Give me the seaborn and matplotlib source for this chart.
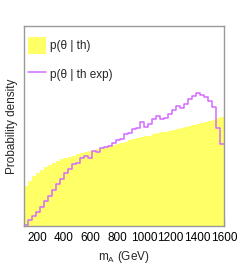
import numpy as np
import pandas as pd
import matplotlib
matplotlib.use("Agg")
import matplotlib.pyplot as plt
import seaborn as sns
from matplotlib.ticker import MultipleLocator

# binning in m_A (GeV)
m_min, m_max, n_bins = 100, 1600, 50

# p(theta | th), arbitrary density units
p_th = [40, 45, 50, 53, 56, 59, 61, 63, 65, 67,
        68, 69, 70, 72, 73, 74, 75, 76, 77, 78,
        79, 80, 81, 82, 83, 84, 86, 87, 88, 89,
        90, 90, 92, 93, 94, 94, 95, 96, 97, 98,
        99, 100, 101, 102, 103, 104, 105, 106, 108, 109]

# p(theta | th exp)
p_th_exp = [1, 6, 10, 14, 19, 25, 30, 36, 42, 47,
            53, 57, 62, 63, 68, 70, 68, 75, 74, 78,
            79, 80, 83, 86, 87, 92, 93, 97, 98, 104,
            99, 102, 107, 110, 107, 108, 112, 116, 120, 118,
            122, 127, 130, 133, 131, 129, 125, 119, 98, 82]

edges = np.linspace(m_min, m_max, n_bins + 1).tolist()
centers = [0.5 * (a + b) for a, b in zip(edges[:-1], edges[1:])]
df = pd.DataFrame({"mA": centers, "th": p_th, "th_exp": p_th_exp})

sns.set_style("white")
plt.rcParams["font.family"] = ["Liberation Sans", "DejaVu Sans"]
plt.rcParams["mathtext.default"] = "regular"
fs = 8.5

fig = plt.figure(figsize=(2.49, 2.66), dpi=100)
ax = fig.add_axes([0.0964, 0.1504, 0.8032, 0.7519])

sns.histplot(data=df, x="mA", weights="th", bins=edges, element="step",
             fill=True, color="#ffff66", alpha=1, linewidth=0, ax=ax,
             label="p(θ | th)")
sns.histplot(data=df, x="mA", weights="th_exp", bins=edges, element="step",
             fill=False, color="#d36bff", linewidth=1.1, ax=ax,
             label="p(θ | th exp)")

ax.set_xlim(m_min, m_max)
ax.set_ylim(0, 200)
ax.set_yticks([])
ax.xaxis.set_major_locator(MultipleLocator(200))
ax.xaxis.set_minor_locator(MultipleLocator(50))
ax.tick_params(axis="x", which="both", direction="in", bottom=True, top=False,
               colors="#333333", labelsize=fs, pad=4)
ax.tick_params(axis="x", which="major", length=5.5, width=0.8)
ax.tick_params(axis="x", which="minor", length=3, width=0.8)
ax.tick_params(axis="x", labelcolor="black")
for s in ax.spines.values():
    s.set_color("#999999")
    s.set_linewidth(1)

ax.set_xlabel("m$_A$ (GeV)", fontsize=fs)
ax.set_ylabel("Probability density", fontsize=fs)
ax.xaxis.set_label_coords(0.5, -0.115)
ax.yaxis.set_label_coords(-0.03, 0.5)

ax.legend(loc="upper left", bbox_to_anchor=(0.02, 0.945), frameon=False,
          fontsize=fs, handlelength=1.55, handleheight=1.8, labelspacing=1.0,
          handletextpad=0.35, borderpad=0, borderaxespad=0)

fig.savefig("out.png", dpi=100)
